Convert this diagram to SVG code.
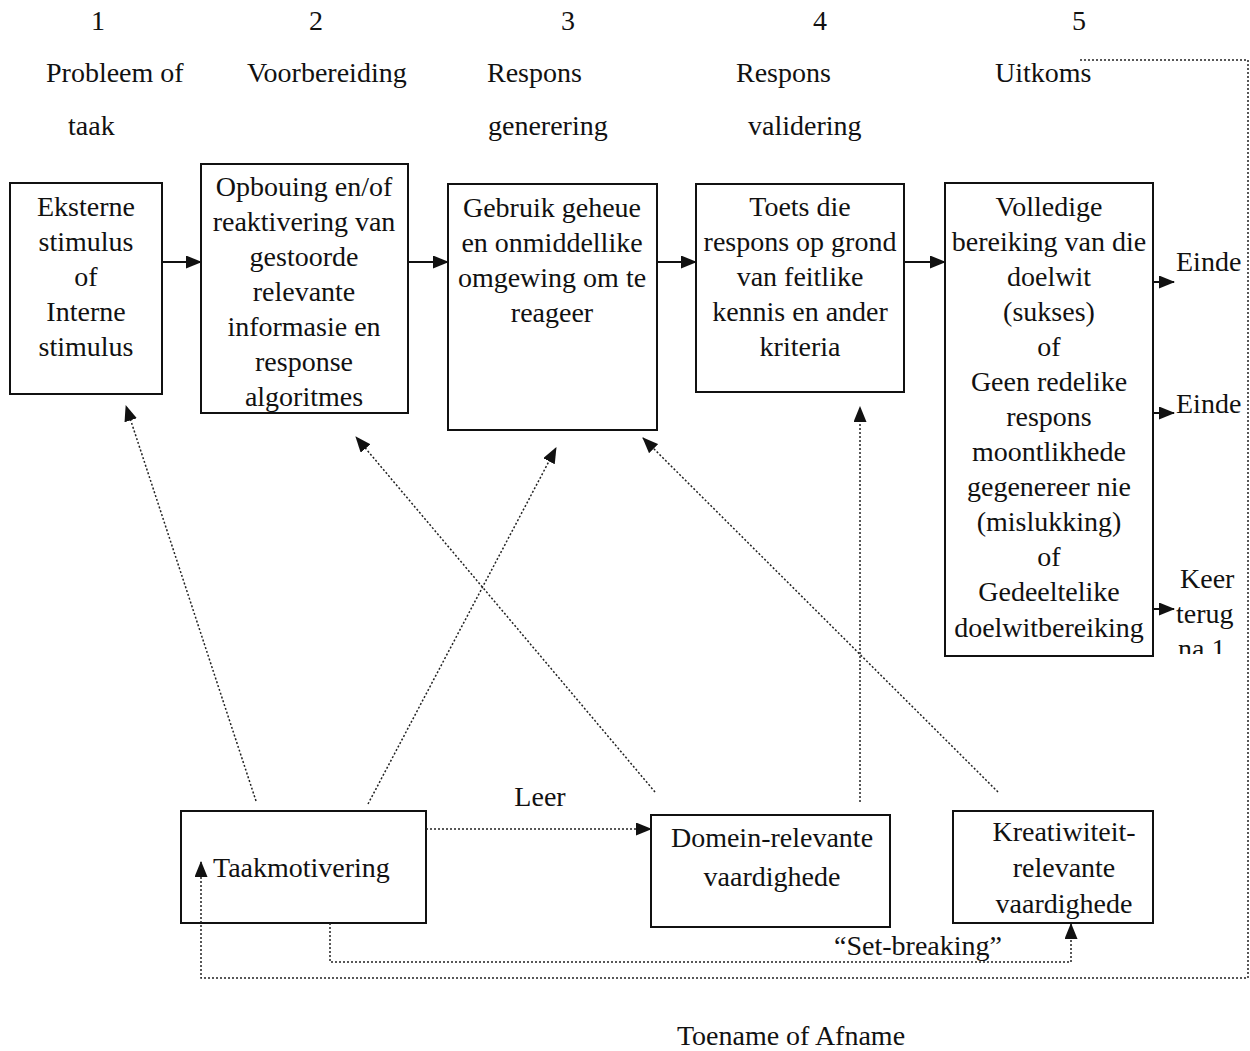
<svg xmlns="http://www.w3.org/2000/svg" width="1250" height="1051" viewBox="0 0 1250 1051">
<style>
text{font-family:"Liberation Serif","Times New Roman",serif;font-size:28px;fill:#111}
.c{text-anchor:middle}
.box{fill:#fff;stroke:#111;stroke-width:2}
.solid{stroke:#111;stroke-width:2;fill:none}
.dot{stroke:#222;stroke-width:1.5;fill:none;stroke-dasharray:2 2}
</style>
<defs>
<marker id="ah" markerUnits="userSpaceOnUse" markerWidth="16" markerHeight="13" refX="15" refY="6.5" orient="auto">
<path d="M0,0 L16,6.5 L0,13 z" fill="#111"/>
</marker>
<clipPath id="clipNa"><rect x="1150" y="560" width="100" height="94"/></clipPath>
</defs>
<rect width="1250" height="1051" fill="#fff"/>

<g id="headers">
<text x="98" y="30" class="c">1</text>
<text x="316" y="30" class="c">2</text>
<text x="568" y="30" class="c">3</text>
<text x="820" y="30" class="c">4</text>
<text x="1079" y="30" class="c">5</text>
<text x="46" y="82">Probleem of</text>
<text x="68" y="135">taak</text>
<text x="247" y="82">Voorbereiding</text>
<text x="487" y="82">Respons</text>
<text x="488" y="135">generering</text>
<text x="736" y="82">Respons</text>
<text x="748" y="135">validering</text>
<text x="995" y="82">Uitkoms</text>
</g>

<g id="n1">
<rect class="box" x="10" y="183" width="152" height="211"/>
<text class="c" x="86" y="216">Eksterne</text>
<text class="c" x="86" y="251">stimulus</text>
<text class="c" x="86" y="286">of</text>
<text class="c" x="86" y="321">Interne</text>
<text class="c" x="86" y="356">stimulus</text>
</g>

<g id="n2">
<rect class="box" x="201" y="164" width="207" height="249"/>
<text class="c" x="304" y="196">Opbouing en/of</text>
<text class="c" x="304" y="231">reaktivering van</text>
<text class="c" x="304" y="266">gestoorde</text>
<text class="c" x="304" y="301">relevante</text>
<text class="c" x="304" y="336">informasie en</text>
<text class="c" x="304" y="371">response</text>
<text class="c" x="304" y="406">algoritmes</text>
</g>

<g id="n3">
<rect class="box" x="448" y="184" width="209" height="246"/>
<text class="c" x="552" y="217">Gebruik geheue</text>
<text class="c" x="552" y="252">en onmiddellike</text>
<text class="c" x="552" y="287">omgewing om te</text>
<text class="c" x="552" y="322">reageer</text>
</g>

<g id="n4">
<rect class="box" x="696" y="184" width="208" height="208"/>
<text class="c" x="800" y="216">Toets die</text>
<text class="c" x="800" y="251">respons op grond</text>
<text class="c" x="800" y="286">van feitlike</text>
<text class="c" x="800" y="321">kennis en ander</text>
<text class="c" x="800" y="356">kriteria</text>
</g>

<g id="n5">
<rect class="box" x="945" y="183" width="208" height="473"/>
<text class="c" x="1049" y="216">Volledige</text>
<text class="c" x="1049" y="251">bereiking van die</text>
<text class="c" x="1049" y="286">doelwit</text>
<text class="c" x="1049" y="321">(sukses)</text>
<text class="c" x="1049" y="356">of</text>
<text class="c" x="1049" y="391">Geen redelike</text>
<text class="c" x="1049" y="426">respons</text>
<text class="c" x="1049" y="461">moontlikhede</text>
<text class="c" x="1049" y="496">gegenereer nie</text>
<text class="c" x="1049" y="531">(mislukking)</text>
<text class="c" x="1049" y="566">of</text>
<text class="c" x="1049" y="601">Gedeeltelike</text>
<text class="c" x="1049" y="637">doelwitbereiking</text>
</g>

<g id="outcomes">
<text x="1176" y="271">Einde</text>
<text x="1176" y="413">Einde</text>
<text x="1180" y="588">Keer</text>
<text x="1176" y="623">terug</text>
<text x="1178" y="658" clip-path="url(#clipNa)">na 1</text>
</g>

<g id="n6">
<rect class="box" x="181" y="811" width="245" height="112"/>
<text x="213" y="877">Taakmotivering</text>
</g>

<g id="n7">
<rect class="box" x="651" y="815" width="239" height="112"/>
<text class="c" x="772" y="847">Domein-relevante</text>
<text class="c" x="772" y="886">vaardighede</text>
</g>

<g id="n8">
<rect class="box" x="953" y="811" width="200" height="112"/>
<text class="c" x="1064" y="841">Kreatiwiteit-</text>
<text class="c" x="1064" y="877">relevante</text>
<text class="c" x="1064" y="913">vaardighede</text>
</g>

<g id="labels">
<text class="c" x="540" y="806">Leer</text>
<text class="c" x="918" y="955">“Set-breaking”</text>
<text class="c" x="791" y="1045">Toename of Afname</text>
</g>

<g id="connectors">
<line class="solid" x1="162" y1="262" x2="201" y2="262" marker-end="url(#ah)"/>
<line class="solid" x1="408" y1="262" x2="448" y2="262" marker-end="url(#ah)"/>
<line class="solid" x1="657" y1="262" x2="696" y2="262" marker-end="url(#ah)"/>
<line class="solid" x1="904" y1="262" x2="945" y2="262" marker-end="url(#ah)"/>
<line class="solid" x1="1153" y1="282" x2="1174" y2="282" marker-end="url(#ah)"/>
<line class="solid" x1="1153" y1="413" x2="1174" y2="413" marker-end="url(#ah)"/>
<line class="solid" x1="1153" y1="609" x2="1174" y2="609" marker-end="url(#ah)"/>
<line class="dot" x1="256" y1="801" x2="126" y2="406" marker-end="url(#ah)"/>
<line class="dot" x1="368" y1="804" x2="556" y2="448" marker-end="url(#ah)"/>
<line class="dot" x1="655" y1="792" x2="356" y2="437" marker-end="url(#ah)"/>
<line class="dot" x1="998" y1="792" x2="643" y2="438" marker-end="url(#ah)"/>
<line class="dot" x1="860" y1="802" x2="860" y2="407" marker-end="url(#ah)"/>
<line class="dot" x1="426" y1="829" x2="651" y2="829" marker-end="url(#ah)"/>
<path class="dot" d="M330,923 V962 H1071 V924" marker-end="url(#ah)"/>
<path class="dot" d="M1080,60 H1248 V978 H201 V862" marker-end="url(#ah)"/>
</g>
</svg>
